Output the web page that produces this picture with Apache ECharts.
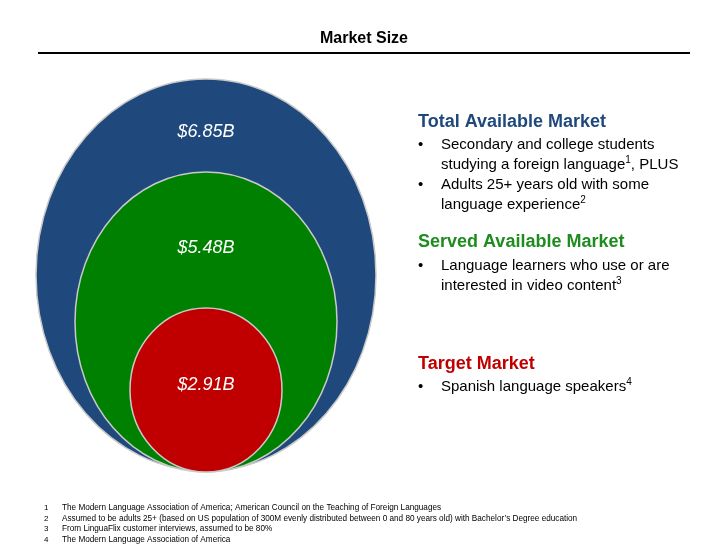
<!DOCTYPE html>
<html>
<head>
<meta charset="utf-8">
<script src="https://cdn.jsdelivr.net/npm/echarts@6/dist/echarts.min.js"></script>
<style>html,body{margin:0;padding:0;background:#fff}#c{width:728px;height:546px}</style>
</head>
<body>
<div id="c"></div>
<script>
// market sizes, $B
var labels = ['$6.85B', '$5.48B', '$2.91B'];
var values = [6.85, 5.48, 2.91];
var colors = ['#1F497D', '#008000', '#C00000'];
// ellipse geometry in slide units: [cx, cy, rx, ry, labelY]
var shapes = [
    [206, 275, 170, 196, 132],
    [206, 322, 131, 150, 248],
    [206, 390, 76, 82, 385]
];
var footnotes = [
    'The Modern Language Association of America; American Council on the Teaching of Foreign Languages',
    'Assumed to be adults 25+ (based on US population of 300M evenly distributed between 0 and 80 years old) with Bachelor\u2019s Degree education',
    'From LinguaFlix customer interviews, assumed to be 80%',
    'The Modern Language Association of America'
];

var chart = echarts.init(document.getElementById('c'));
var data = shapes.map(function (s, i) {
    return [s[0], s[1], s[2], s[3], s[4], i];
});

var fnGraphics = [];
footnotes.forEach(function (t, i) {
    fnGraphics.push({ type: 'text', left: 44, top: 504 + i * 10.5, style: { text: String(i + 1), fontSize: 8, fill: '#000', fontFamily: 'Liberation Sans' } });
    fnGraphics.push({ type: 'text', left: 62, top: 504 + i * 10.5, style: { text: t, fontSize: 8.2, fill: '#000', fontFamily: 'Liberation Sans' } });
});

var rich = { s: { fontSize: 10, verticalAlign: 'top', padding: [0, 0, 6, 0], fill: '#000' } };
function txt(top, text, color, size, bold, left) {
    return {
        type: 'text', left: left || 418, top: top,
        style: { text: text, fill: color, fontSize: size, fontWeight: bold ? 'bold' : 'normal', fontFamily: 'Liberation Sans', rich: rich, lineHeight: 20 }
    };
}

chart.setOption({
    animation: false,
    grid: { left: 0, top: 0, width: 728, height: 546 },
    xAxis: { type: 'value', min: 0, max: 728, show: false },
    yAxis: { type: 'value', min: 0, max: 546, inverse: true, show: false },
    series: [{
        type: 'custom',
        data: data,
        renderItem: function (params, api) {
            var c = api.coord([api.value(0), api.value(1)]);
            var sz = api.size([api.value(2), api.value(3)]);
            var i = api.value(5);
            var ly = api.coord([api.value(0), api.value(4)]);
            return {
                type: 'group',
                children: [{
                    type: 'ellipse',
                    shape: { cx: c[0], cy: c[1], rx: sz[0], ry: sz[1] },
                    style: { fill: colors[i], stroke: '#c9c9c9', lineWidth: 1.5 }
                }, {
                    type: 'text',
                    style: { text: labels[i], x: ly[0], y: ly[1], fill: '#fff', fontSize: 18, fontStyle: 'italic', fontFamily: 'Liberation Sans', align: 'center', verticalAlign: 'middle' }
                }]
            };
        }
    }],
    graphic: [
        { type: 'text', left: 'center', top: 31, style: { text: 'Market Size', fontSize: 16, fontWeight: 'bold', fill: '#000', fontFamily: 'Liberation Sans' } },
        { type: 'rect', shape: { x: 38, y: 52, width: 652, height: 2 }, style: { fill: '#000' } },
        txt(112, 'Total Available Market', '#1F497D', 18, true),
        txt(135, '\u2022', '#000', 15, false),
        txt(135, 'Secondary and college students\nstudying a foreign language{s|1}, PLUS', '#000', 15, false, 441),
        txt(175, '\u2022', '#000', 15, false),
        txt(175, 'Adults 25+ years old with some\nlanguage experience{s|2}', '#000', 15, false, 441),
        txt(232, 'Served Available Market', '#1E8C1E', 18, true),
        txt(256, '\u2022', '#000', 15, false),
        txt(256, 'Language learners who use or are\ninterested in video content{s|3}', '#000', 15, false, 441),
        txt(354, 'Target Market', '#C00000', 18, true),
        txt(377, '\u2022', '#000', 15, false),
        txt(377, 'Spanish language speakers{s|4}', '#000', 15, false, 441)
    ].concat(fnGraphics)
});
</script>
</body>
</html>
